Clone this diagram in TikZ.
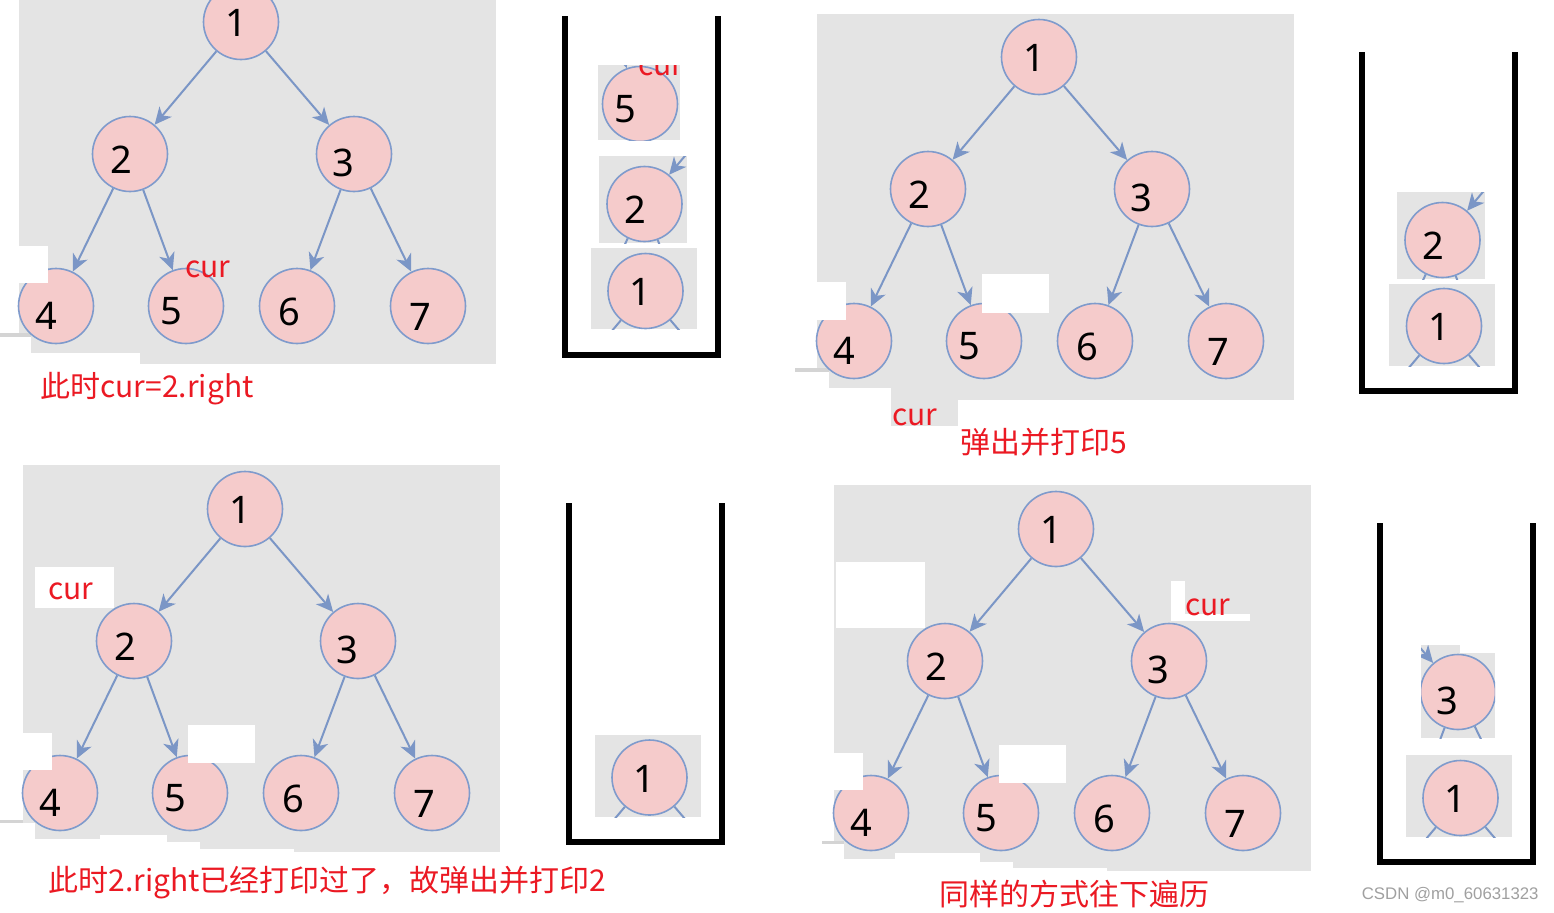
\documentclass[tikz,border=0pt]{standalone}
\usepackage{fontspec}
\setmainfont{Noto Sans}
\newfontfamily\cjkf{Noto Sans CJK SC}
\newfontfamily\wmf{Liberation Sans}
\usetikzlibrary{arrows.meta,calc}
\definecolor{bgc}{RGB}{228,228,228}
\definecolor{linec}{RGB}{212,212,212}
\definecolor{nodef}{RGB}{245,203,203}
\definecolor{nodeb}{RGB}{127,155,204}
\definecolor{edgec}{RGB}{123,150,198}
\definecolor{redc}{RGB}{235,25,35}
\definecolor{wmc}{RGB}{160,160,160}
\tikzset{
 vert/.style={circle,draw=nodeb,fill=nodef,line width=0.8pt,minimum size=37.5pt,inner sep=0pt},
 num/.style={font=\fontsize{19}{21}\selectfont,inner sep=0pt},
 edge/.style={draw=edgec,line width=1pt,-{Stealth[length=8.5pt,width=8pt,inset=2.5pt]}},
 stub/.style={draw=edgec,line width=1pt},
 redlbl/.style={text=redc,font=\cjkf\fontsize{15}{18}\selectfont,inner sep=0pt,anchor=base west},
 stk/.style={draw=black,line width=3pt,line join=miter},
}
\newcommand\bintree[3]{%
\begin{scope}[shift={(#2,#3)}]
\node[vert] (#1a) at (241,22) {};
\node[vert] (#1b) at (130,154) {};
\node[vert] (#1c) at (354,154) {};
\node[vert] (#1d) at (56,306) {};
\node[vert] (#1e) at (186,306) {};
\node[vert] (#1f) at (297,306) {};
\node[vert] (#1g) at (428,306) {};
\node[num] (#1ta) at (236,23) {1};
\node[num] (#1tb) at (121,160) {2};
\node[num] (#1tc) at (343,163) {3};
\node[num] (#1td) at (46,316) {4};
\node[num] (#1te) at (171,311) {5};
\node[num] (#1tf) at (289,312) {6};
\node[num] (#1tg) at (420,317) {7};
\draw[edge] (#1a) -- (#1b);
\draw[edge] (#1a) -- (#1c);
\draw[edge] (#1b) -- (#1d);
\draw[edge] (#1b) -- (#1e);
\draw[edge] (#1c) -- (#1f);
\draw[edge] (#1c) -- (#1g);
\end{scope}}
\newcommand\stkitem[7]{%
\begin{scope}
\clip (#2) rectangle (#3);
\fill[bgc] (#2) rectangle (#3);
\node[vert] (#1) at (#4) {};
\node[num] (#1t) at (#6) {#5};
#7
\end{scope}}
\newcommand\stubs[5]{%
\coordinate (#1-l) at ($(#1)+(#2,#3)$);
\coordinate (#1-r) at ($(#1)+(#4,#5)$);
\draw[stub] (#1) -- (#1-l);
\draw[stub] (#1) -- (#1-r);}
\newcommand\incoming[3]{%
\coordinate (#1-in) at ($(#1)+(#2,#3)$);
\draw[edge] (#1-in) -- (#1);}
\begin{document}
\begin{tikzpicture}[x=0.5pt,y=-0.5pt]
\useasboundingbox (0,0) rectangle (1554,912);
\clip (0,0) rectangle (1554,912);
\fill[white] (0,0) rectangle (1554,912);
% ---------- panel 1 ----------
\fill[bgc] (19,0) rectangle (496,364);
\fill[linec] (0,333) rectangle (31,337);
\fill[white] (0,337) rectangle (31,364);
\fill[white] (31,353) rectangle (140,364);
\bintree{p}{0}{0}
\fill[white] (0,246) rectangle (48,283);
\node[redlbl] (pcur) at (185,277) {cur};
\node[redlbl] (pcap) at (40,397) {此时cur=2.right};
% ---------- panel 2 ----------
\fill[bgc] (817,14) rectangle (1294,400);
\fill[linec] (795,368) rectangle (829,372);
\fill[white] (817,372) rectangle (829,400);
\fill[white] (829,388) rectangle (891,400);
\fill[bgc] (891,388) rectangle (958,426);
\bintree{q}{798}{35}
\fill[white] (817,282) rectangle (846,320);
\fill[white] (982,274) rectangle (1049,313);
\node[redlbl] (qcur) at (892,425) {cur};
\node[redlbl] (qcap) at (960,453) {弹出并打印5};
% ---------- panel 3 ----------
\fill[bgc] (23,465) rectangle (500,852);
\fill[linec] (0,820) rectangle (23,823);
\fill[white] (23,823) rectangle (35,852);
\fill[white] (35,839) rectangle (100,852);
\fill[white] (100,835) rectangle (167,852);
\fill[white] (167,842) rectangle (200,852);
\fill[white] (200,849) rectangle (294,852);
\bintree{r}{4}{487}
\fill[white] (35,567) rectangle (114,608);
\fill[white] (188,725) rectangle (255,763);
\fill[white] (23,733) rectangle (52,770);
\node[redlbl] (rcur) at (48,599) {cur};
\node[redlbl] (rcap) at (48,891) {此时2.right已经打印过了，故弹出并打印2};
% ---------- panel 4 ----------
\fill[bgc] (834,485) rectangle (1311,871);
\fill[linec] (822,841) rectangle (844,844);
\fill[white] (834,844) rectangle (844,871);
\fill[white] (844,859) rectangle (895,871);
\fill[white] (895,853) rectangle (980,871);
\fill[white] (980,862) rectangle (1013,871);
\fill[white] (1013,868) rectangle (1107,871);
\bintree{s}{815}{507}
\fill[white] (836,562) rectangle (925,628);
\fill[white] (1171,581) rectangle (1185,621);
\fill[white] (1171,614) rectangle (1250,621);
\fill[white] (999,745) rectangle (1066,783);
\fill[white] (834,753) rectangle (863,790);
\node[redlbl] (scur) at (1185,615) {cur};
\node[redlbl] (scap) at (939,905) {同样的方式往下遍历};
% ---------- stack 1 ----------
\draw[stk] (564.5,16) -- (564.5,355) -- (717.5,355) -- (717.5,16);
\stkitem{k1e}{598,65}{680,140}{640,104}{5}{625,109}{%
 \incoming{k1e}{-56}{-152}
 \node[redlbl] (k1cur) at (638,75) {cur};}
\stkitem{k1b}{599,156}{687,243}{644.5,204}{2}{635.5,210}{%
 \incoming{k1b}{111}{-132}
 \stubs{k1b}{-74}{152}{56}{152}}
\stkitem{k1a}{591,248}{697,329}{645.5,291}{1}{640.5,292}{%
 \stubs{k1a}{-111}{132}{113}{132}}
% ---------- stack 2 ----------
\draw[stk] (1362,52) -- (1362,391) -- (1515,391) -- (1515,52);
\stkitem{k2b}{1397,192}{1485,279}{1442.5,240}{2}{1433.5,246}{%
 \incoming{k2b}{111}{-132}
 \stubs{k2b}{-74}{152}{56}{152}}
\stkitem{k2a}{1389,284}{1495,366}{1444,326}{1}{1439,327}{%
 \stubs{k2a}{-111}{132}{113}{132}}
% ---------- stack 3 ----------
\draw[stk] (568.5,503) -- (568.5,841.5) -- (721.5,841.5) -- (721.5,503);
\stkitem{k3a}{595,735}{701,817}{649.5,777.5}{1}{644.5,778.5}{%
 \stubs{k3a}{-111}{132}{113}{132}}
% ---------- stack 4 ----------
\draw[stk] (1380,523) -- (1380,862) -- (1533,862) -- (1533,523);
\stkitem{k4c}{1421,645}{1495,738}{1458,692}{3}{1447,701}{%
 \incoming{k4c}{-113}{-132}
 \stubs{k4c}{-57}{152}{74}{152}}
\fill[white] (1460,645) rectangle (1495,653);
\stkitem{k4a}{1406,755}{1512,837}{1460.5,798}{1}{1455.5,799}{%
 \stubs{k4a}{-111}{132}{113}{132}}
% ---------- watermark ----------
\node[font=\wmf\fontsize{8.4}{10}\selectfont,text=wmc,anchor=base east,inner sep=0pt] (wm) at (1539,899) {CSDN @m0\_60631323};
\end{tikzpicture}
\end{document}
